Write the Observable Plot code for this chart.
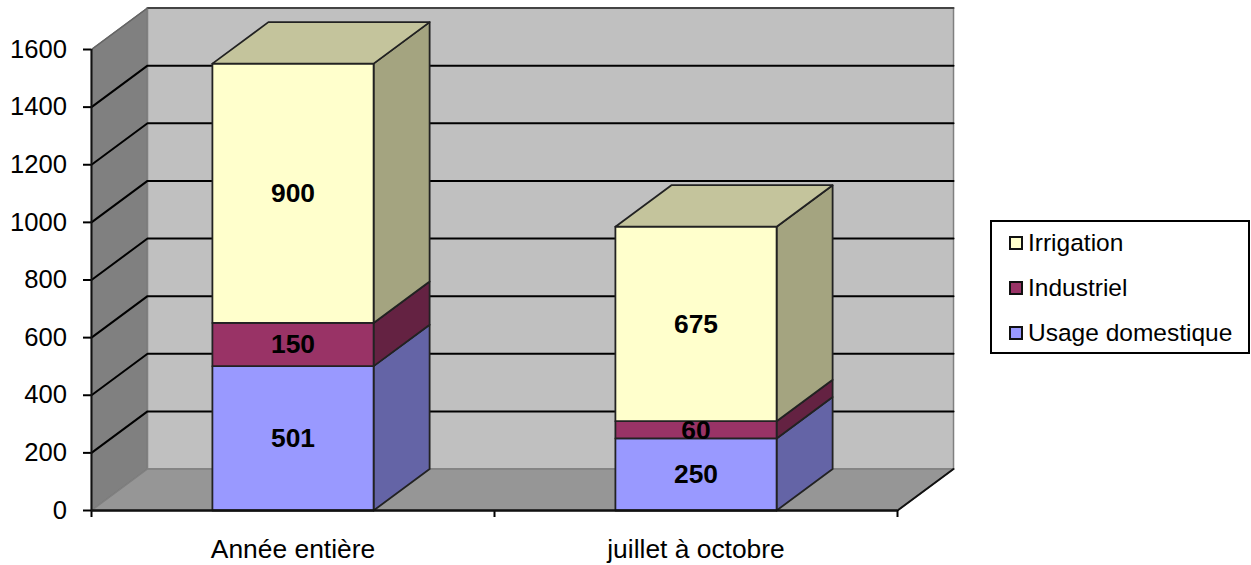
<!DOCTYPE html>
<html lang="fr">
<head>
<meta charset="utf-8">
<script src="https://cdn.jsdelivr.net/npm/d3@7"></script>
<script src="https://cdn.jsdelivr.net/npm/@observablehq/plot@0.6"></script>
<style>
html,body{margin:0;padding:0;background:#fff;}
#chart{position:relative;width:1251px;height:565px;overflow:hidden;font-family:"Liberation Sans",Arial,sans-serif;}
#legend{position:absolute;left:990px;top:220px;width:256px;height:130px;border:2px solid #000;background:#fff;}
.row{position:absolute;left:17px;height:30px;line-height:30px;font-size:24.5px;color:#000;white-space:nowrap;}
.sw{position:absolute;left:0;top:8px;width:10px;height:10px;border:2px solid #111;}
.lb{position:absolute;left:19px;top:0;}
</style>
</head>
<body>
<div id="chart"></div>
<script>
const categories = ["Année entière", "juillet à octobre"];
const seriesNames = ["Usage domestique", "Industriel", "Irrigation"];
const usageDomestique = [501, 250];
const industriel = [150, 60];
const irrigation = [900, 675];
const seriesValues = [usageDomestique, industriel, irrigation];
const frontColors = ["#9999ff", "#993366", "#ffffcc"];
const sideColors = ["#6464a6", "#642242", "#a4a480"];
const topColor = "#c4c49c";
const yTicks = [0, 200, 400, 600, 800, 1000, 1200, 1400, 1600];
const gridLevels = [200, 400, 600, 800, 1000, 1200, 1400];
const xEdges = [0, 1, 2];
const barHalf = 0.2;       // half of a bar's width, in category units
const depthX = 0.139;      // receding offset of the 3-D depth, in category units
const depthY = 144;        // receding offset of the 3-D depth, in value units
const yMax = 1600;

const back = ([x, y]) => [x + depthX, y + depthY];
function face(corners, fill, stroke, strokeWidth) {
  const pts = [...corners, corners[0]].map(([x, y]) => ({x, y}));
  return Plot.line(pts, {x: "x", y: "y", fill, stroke, strokeWidth, strokeLinejoin: "round"});
}
function path(corners, stroke, strokeWidth) {
  return Plot.line(corners.map(([x, y]) => ({x, y})), {x: "x", y: "y", stroke, strokeWidth});
}

const marks = [];
// walls and floor
marks.push(face([[0, 0], [0, yMax], back([0, yMax]), back([0, 0])], "#808080", "#6e6e6e", 1.5));
marks.push(face([back([0, 0]), back([0, yMax]), back([2, yMax]), back([2, 0])], "#c0c0c0", "#808080", 1.5));
marks.push(face([[0, 0], back([0, 0]), back([2, 0]), [2, 0]], "#969696", "#808080", 1.5));
marks.push(path([back([0, yMax]), back([2, yMax])], "#444", 2));
marks.push(path([[0, yMax], back([0, yMax])], "#666", 1.5));
marks.push(path([[2, 0], back([2, 0])], "#111", 2));
// gridlines across side wall and back wall
for (const v of gridLevels) {
  marks.push(path([[0, v], back([0, v]), back([2, v])], "#000", 2));
}
// stacked 3-D bars
categories.forEach((c, i) => {
  const x0 = i + 0.5 - barHalf, x1 = i + 0.5 + barHalf;
  let base = 0;
  seriesValues.forEach((vals, s) => {
    const top = base + vals[i];
    marks.push(face([[x1, base], [x1, top], back([x1, top]), back([x1, base])], sideColors[s], "#222", 1.8));
    marks.push(face([[x0, base], [x1, base], [x1, top], [x0, top]], frontColors[s], "#222", 1.8));
    if (s === seriesValues.length - 1) {
      marks.push(face([[x0, top], [x1, top], back([x1, top]), back([x0, top])], topColor, "#222", 1.8));
    }
    base = top;
  });
});
// axes
marks.push(Plot.axisY({ticks: yTicks, tickSize: 8, tickPadding: 16.5, strokeWidth: 2, label: null, fontSize: 25.6, tickFormat: d => String(d)}));
marks.push(Plot.axisX({ticks: xEdges, tickSize: 7, strokeWidth: 2, label: null, tickFormat: () => ""}));
marks.push(Plot.ruleX([0], {y1: 0, y2: yMax, stroke: "#111", strokeWidth: 2}));
marks.push(Plot.ruleY([0], {x1: 0, x2: 2, stroke: "#111", strokeWidth: 2.4}));
marks.push(Plot.axisX({ticks: [0.5, 1.5], tickSize: 0, tickPadding: 29, label: null, fontSize: 26.4, tickFormat: d => categories[d - 0.5]}));
// value labels
categories.forEach((c, i) => {
  let base = 0;
  seriesValues.forEach(vals => {
    marks.push(Plot.text([{x: i + 0.5, y: base + vals[i] / 2, t: String(vals[i])}],
      {x: "x", y: "y", text: "t", dy: 0.5, fontSize: 26.4, fontWeight: "bold", fill: "#000"}));
    base += vals[i];
  });
});

const chart = Plot.plot({
  width: 1251, height: 565,
  marginLeft: 91, marginRight: 354, marginTop: 49, marginBottom: 55,
  x: {domain: [0, 2], axis: null},
  y: {domain: [0, yMax], axis: null},
  style: {fontFamily: '"Liberation Sans",Arial,sans-serif', background: "#fff", color: "#000", overflow: "visible"},
  marks
});
const host = document.getElementById("chart");
host.appendChild(chart);

const legend = document.createElement("div");
legend.id = "legend";
[2, 1, 0].forEach((s, r) => {
  const row = document.createElement("div");
  row.className = "row";
  row.style.top = (6 + r * 45) + "px";
  const sw = document.createElement("div");
  sw.className = "sw";
  sw.style.background = frontColors[s];
  const lb = document.createElement("div");
  lb.className = "lb";
  lb.textContent = seriesNames[s];
  row.append(sw, lb);
  legend.appendChild(row);
});
host.appendChild(legend);
</script>
</body>
</html>
